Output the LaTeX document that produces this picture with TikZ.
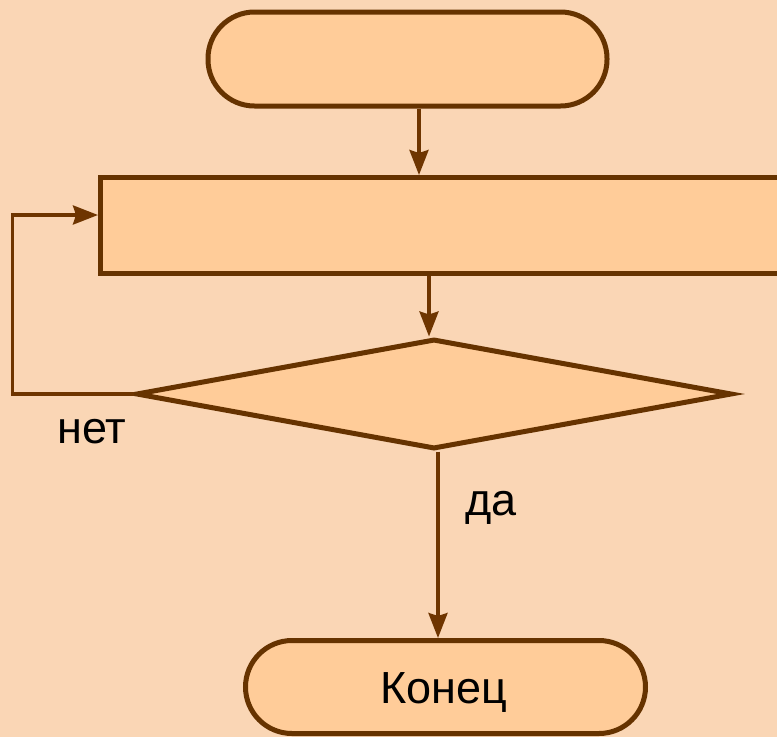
\documentclass[tikz,border=0pt]{standalone}
\usepackage{fontspec}
\setmainfont{Liberation Sans}
\usetikzlibrary{shapes.geometric,arrows.meta}
\definecolor{bgc}{HTML}{FAD6B5}
\definecolor{fillc}{HTML}{FFCC99}
\definecolor{strokec}{HTML}{663300}
\definecolor{arrowc}{HTML}{6E3500}
\begin{document}
\begin{tikzpicture}[x=1pt,y=-1pt,
  box/.style={draw=strokec,fill=fillc,line width=5pt,inner sep=0pt},
  term/.style={box,rounded corners=46.5pt},
  arr/.style={draw=arrowc,line width=3.5pt,-{Stealth[length=25pt,width=19pt,inset=3pt]}},
  lbl/.style={font=\fontsize{45}{52}\selectfont,text=black,inner sep=0pt}]
\useasboundingbox (0,0) rectangle (777,737);
\fill[bgc] (0,0) rectangle (777,737);
\node[term,minimum width=399pt,minimum height=94pt] (t) at (407.5,59) {};
\node[box,minimum width=690pt,minimum height=96pt] (r) at (445.5,225.5) {};
\node[box,diamond,aspect=5.5,minimum width=596pt,minimum height=110pt] (d) at (434,394) {};
\node[term,minimum width=400pt,minimum height=93pt] (k) at (445.5,687) {};
\node[lbl,anchor=base] (kt) at (444,703) {Конец};
\node[lbl,anchor=base] (no) at (92,443) {нет};
\node[lbl,anchor=base] (yes) at (491,515) {да};
\coordinate (c1) at (419,0);
\coordinate (c2) at (429,0);
\coordinate (c3) at (438,0);
\coordinate (lp) at (12.5,215);
\draw[arr] (t.south -| c1) -- (r.north -| c1);
\draw[arr] (r.south -| c2) -- (d.north -| c2);
\draw[arr] (d.south -| c3) -- (k.north -| c3);
\draw[arr,line join=miter] (d.west) -| (lp) -- (lp -| r.west);
\end{tikzpicture}
\end{document}
